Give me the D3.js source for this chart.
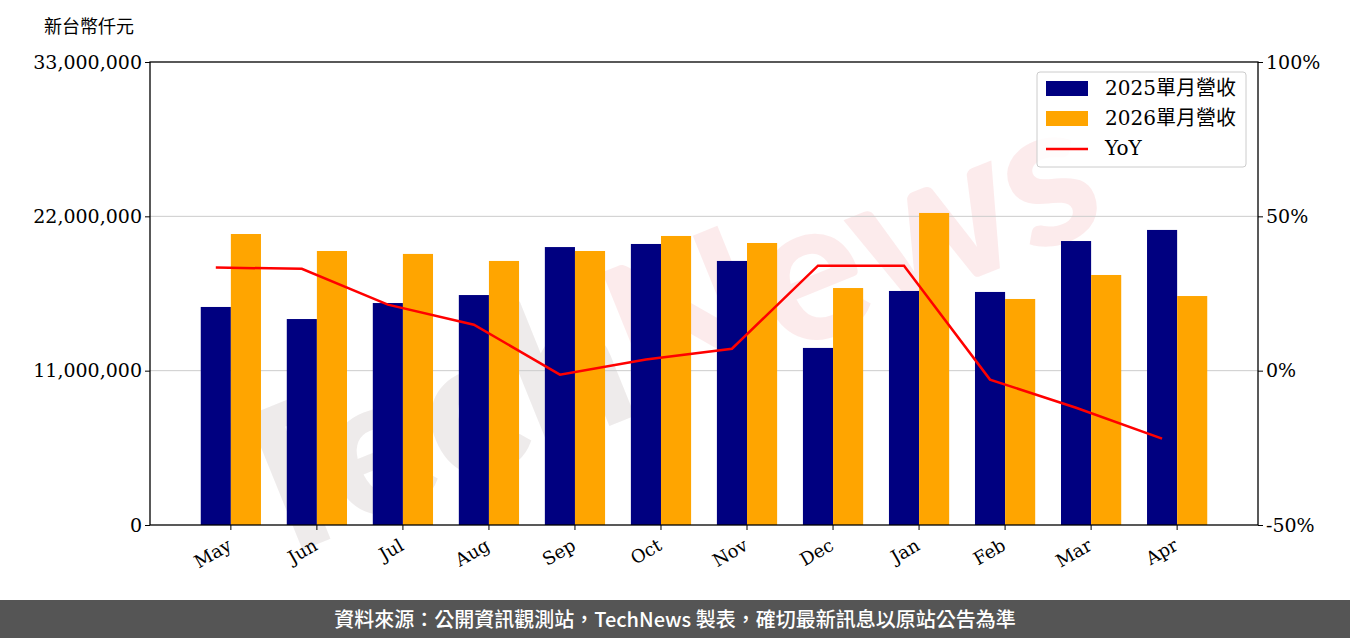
<!DOCTYPE html><html><head><meta charset="utf-8"><script src="https://cdn.jsdelivr.net/npm/d3@7"></script>
<style>body{margin:0;background:#fff}</style></head><body><svg id="c" width="1350" height="638"></svg><script>
const months=["May","Jun","Jul","Aug","Sep","Oct","Nov","Dec","Jan","Feb","Mar","Apr"];
const rev2025=[15.54,14.68,15.82,16.39,19.81,20.03,18.82,12.62,16.68,16.61,20.24,21.03].map(v=>v*1e6);
const rev2026=[20.74,19.53,19.32,18.82,19.53,20.6,20.1,16.89,22.24,16.11,17.82,16.32].map(v=>v*1e6);
const yoy=[33.4,33.0,21.4,14.9,-1.3,3.6,7.1,34.0,34.0,-2.9,-12,-22];
const leftTicks=[0,11e6,22e6,33e6];
const rightTicks=[-50,0,50,100];
const svg=d3.select("#c"),F='"DejaVu Serif","Noto Sans CJK TC",serif';
const L=150,R=1258,T=62,B=525;
const x=d3.scaleBand().domain(months).range([L,R]).paddingInner(0).paddingOuter(0.44);
const y=d3.scaleLinear().domain([0,33e6]).range([B,T]);
const y2=d3.scaleLinear().domain([-50,100]).range([B,T]);
const bw=x.bandwidth()*0.35;
const wm=svg.append("text").attr("transform","translate(660,330) rotate(-22)").attr("text-anchor","middle").attr("dy","0.35em")
 .attr("font-family","Lato,sans-serif").attr("font-weight","900").attr("font-size",200);
wm.append("tspan").attr("fill","rgba(200,190,190,0.3)").text("Tech");
wm.append("tspan").attr("fill","rgba(235,120,130,0.15)").text("News");
svg.append("g").selectAll("line").data([11e6,22e6]).join("line").attr("x1",L).attr("x2",R).attr("y1",d=>y(d)).attr("y2",d=>y(d)).attr("stroke","#ccc");
svg.append("g").selectAll("rect").data(rev2025).join("rect").attr("x",(d,i)=>x(months[i])+x.bandwidth()/2-bw).attr("width",bw).attr("y",d=>y(d)).attr("height",d=>B-y(d)).attr("fill","#000080");
svg.append("g").selectAll("rect").data(rev2026).join("rect").attr("x",(d,i)=>x(months[i])+x.bandwidth()/2).attr("width",bw).attr("y",d=>y(d)).attr("height",d=>B-y(d)).attr("fill","#FFA500");
svg.append("path").datum(yoy).attr("fill","none").attr("stroke","red").attr("stroke-width",2.5)
 .attr("d",d3.line().x((d,i)=>x(months[i])+x.bandwidth()/2-bw/2).y(d=>y2(d)));
svg.append("rect").attr("x",L).attr("y",T).attr("width",R-L).attr("height",B-T).attr("fill","none").attr("stroke","#000").attr("stroke-width",1.3);
const ax=svg.append("g").attr("transform",`translate(0,${B})`).call(d3.axisBottom(x).tickSizeOuter(0).tickSize(5).tickFormat(d=>d));
ax.selectAll("text").attr("font-family",F).attr("font-size",18).attr("y",0).attr("dy",0).attr("transform","translate(2,24) rotate(-30)").attr("text-anchor","end");
ax.select(".domain").remove();
const al=svg.append("g").attr("transform",`translate(${L},0)`).call(d3.axisLeft(y).tickValues(leftTicks).tickSize(5).tickFormat(d3.format(",")));
al.selectAll("text").attr("font-family",F).attr("font-size",19);al.select(".domain").remove();
const ar=svg.append("g").attr("transform",`translate(${R},0)`).call(d3.axisRight(y2).tickValues(rightTicks).tickSize(5).tickFormat(d=>d+"%"));
ar.selectAll("text").attr("font-family",F).attr("font-size",19);ar.select(".domain").remove();
svg.append("text").attr("x",44).attr("y",33).attr("font-family",F).attr("font-size",18).text("新台幣仟元");
const lg=svg.append("g");
lg.append("rect").attr("x",1037).attr("y",72).attr("width",209).attr("height",95).attr("rx",3).attr("fill","rgba(255,255,255,0.85)").attr("stroke","#ccc");
[["2025單月營收","#000080"],["2026單月營收","#FFA500"]].forEach((e,i)=>{
 lg.append("rect").attr("x",1046).attr("y",81+i*30).attr("width",42).attr("height",15).attr("fill",e[1]);
 lg.append("text").attr("x",1105).attr("y",95+i*30).attr("font-family",F).attr("font-size",20).text(e[0]);});
lg.append("line").attr("x1",1046).attr("x2",1088).attr("y1",149).attr("y2",149).attr("stroke","red").attr("stroke-width",2.5);
lg.append("text").attr("x",1105).attr("y",155).attr("font-family",F).attr("font-size",20).text("YoY");
svg.append("rect").attr("x",0).attr("y",600).attr("width",1350).attr("height",38).attr("fill","#555");
svg.append("text").attr("x",675).attr("y",627).attr("text-anchor","middle").attr("fill","#fff").attr("font-family",'"Noto Sans CJK TC",sans-serif').attr("font-weight","500").attr("font-size",20).text("資料來源：公開資訊觀測站，TechNews 製表，確切最新訊息以原站公告為準");
</script></body></html>
